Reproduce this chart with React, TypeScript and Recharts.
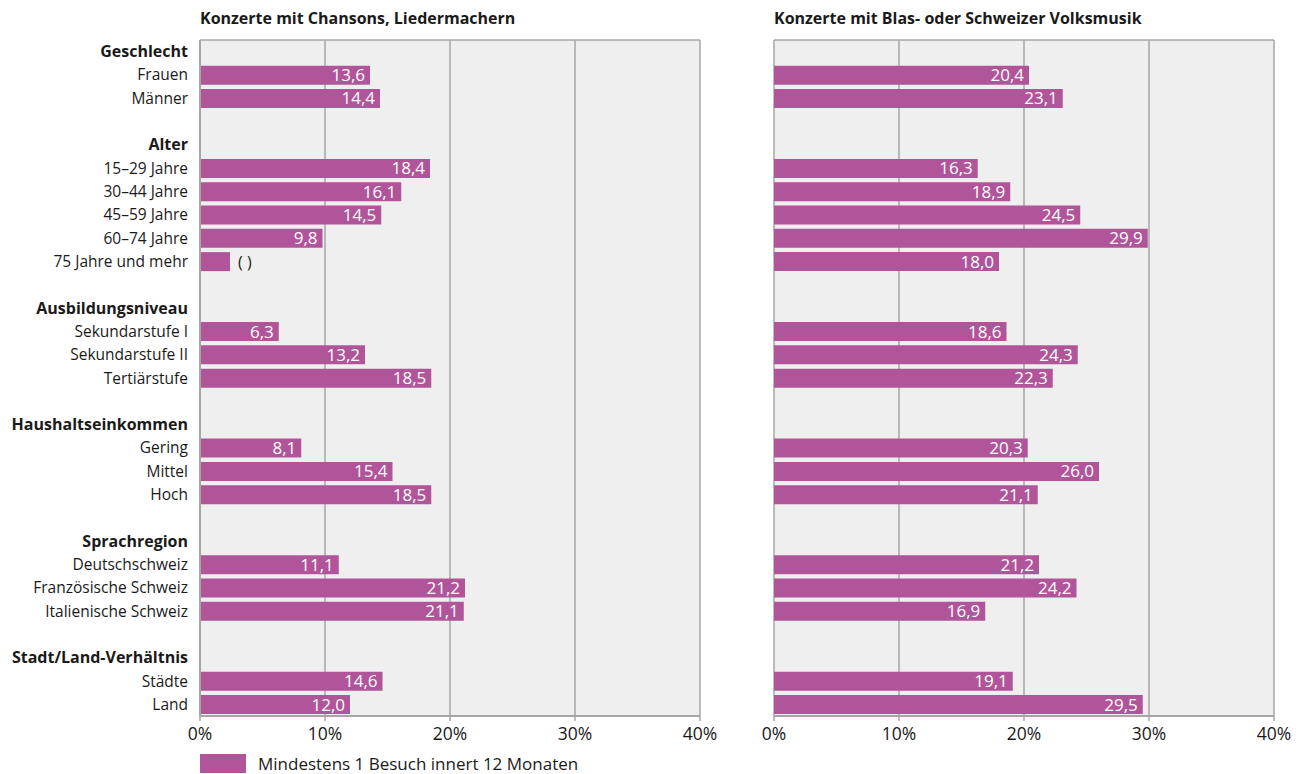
import React from "react";
import {
  BarChart,
  Bar,
  XAxis,
  YAxis,
  CartesianGrid,
  LabelList,
} from "recharts";

// row labels top to bottom; "" = spacer row
const ROWS = [
  "Geschlecht",
  "Frauen",
  "Männer",
  "",
  "Alter",
  "15–29 Jahre",
  "30–44 Jahre",
  "45–59 Jahre",
  "60–74 Jahre",
  "75 Jahre und mehr",
  "",
  "Ausbildungsniveau",
  "Sekundarstufe I",
  "Sekundarstufe II",
  "Tertiärstufe",
  "",
  "Haushaltseinkommen",
  "Gering",
  "Mittel",
  "Hoch",
  "",
  "Sprachregion",
  "Deutschschweiz",
  "Französische Schweiz",
  "Italienische Schweiz",
  "",
  "Stadt/Land-Verhältnis",
  "Städte",
  "Land",
];

const GROUPS = [
  "Geschlecht",
  "Alter",
  "Ausbildungsniveau",
  "Haushaltseinkommen",
  "Sprachregion",
  "Stadt/Land-Verhältnis",
];

// values per row (null for headers / spacers)
const chansons = [
  null, 13.6, 14.4, null,
  null, 18.4, 16.1, 14.5, 9.8, 2.4, null,
  null, 6.3, 13.2, 18.5, null,
  null, 8.1, 15.4, 18.5, null,
  null, 11.1, 21.2, 21.1, null,
  null, 14.6, 12.0,
];

const volksmusik = [
  null, 20.4, 23.1, null,
  null, 16.3, 18.9, 24.5, 29.9, 18.0, null,
  null, 18.6, 24.3, 22.3, null,
  null, 20.3, 26.0, 21.1, null,
  null, 21.2, 24.2, 16.9, null,
  null, 19.1, 29.5,
];

// rows whose value is shown only as "( )" (too few cases)
const chansonsBracketed = ["75 Jahre und mehr"];
const volksmusikBracketed: string[] = [];

const TICKS = [0, 10, 20, 30, 40];

const TITLES = [
  "Konzerte mit Chansons, Liedermachern",
  "Konzerte mit Blas- oder Schweizer Volksmusik",
];
const LEGEND = "Mindestens 1 Besuch innert 12 Monaten";

const FONT = "'Open Sans', sans-serif";
const BAR = "#b1559a";
const GRID = "#a6a6a6";
const TEXT = "#1a1a1a";

const buildTable = (values: (number | null)[], bracketed: string[]) =>
  ROWS.map((label, i) => ({
    id: i,
    value: values[i],
    label:
      values[i] == null
        ? ""
        : bracketed.includes(label)
        ? "( )"
        : values[i]!.toFixed(1).replace(".", ","),
  }));

const RowTick = (props: any) => {
  const { x, y, payload } = props;
  const label = ROWS[payload.value];
  const bold = GROUPS.includes(label);
  return (
    <text
      x={x}
      y={y}
      dy={5.5}
      textAnchor="end"
      fontFamily={FONT}
      fontSize={bold ? 16 : 15.5}
      fontWeight={bold ? 700 : 400}
      fill={TEXT}
    >
      {label}
    </text>
  );
};

const BarLabel = (props: any) => {
  const { x, y, width, height, value } = props;
  if (!value) return null;
  const cy = y + height / 2 + 6;
  if (value === "( )") {
    return (
      <text x={x + width + 8} y={cy} fontFamily={FONT} fontSize={16} fill={TEXT}>
        ( )
      </text>
    );
  }
  return (
    <text
      x={x + width - 5}
      y={cy}
      textAnchor="end"
      fontFamily={FONT}
      fontSize={17}
      fill="#ffffff"
    >
      {value}
    </text>
  );
};

function Panel({
  data,
  width,
  marginLeft,
  showRows,
}: {
  data: any[];
  width: number;
  marginLeft: number;
  showRows: boolean;
}) {
  return (
    <BarChart
      width={width}
      height={774}
      data={data}
      layout="vertical"
      margin={{ top: 40, right: width - marginLeft - (showRows ? 200 : 0) - 500, bottom: 28, left: marginLeft }}
      barCategoryGap="10%"
    >
      <CartesianGrid
        horizontal={true}
        vertical={true}
        horizontalCoordinatesGenerator={({ offset }: any) => [offset.top]}
        stroke={GRID}
        strokeWidth={1.5}
        fill="#efefef"
      />
      <XAxis
        type="number"
        domain={[0, 40]}
        ticks={TICKS}
        interval={0}
        tickFormatter={(v: number) => `${v}%`}
        axisLine={{ stroke: GRID, strokeWidth: 2 }}
        tickLine={{ stroke: GRID, strokeWidth: 1.5 }}
        tickSize={5}
        tickMargin={7}
        height={30}
        tick={{ fontFamily: FONT, fontSize: 17.5, fill: TEXT }}
      />
      <YAxis
        type="category"
        dataKey="id"
        width={showRows ? 200 : 0}
        hide={!showRows}
        interval={0}
        tickSize={0}
        tickMargin={12}
        tickLine={false}
        axisLine={{ stroke: GRID, strokeWidth: 2 }}
        tick={<RowTick />}
      />
      <Bar dataKey="value" fill={BAR} isAnimationActive={false}>
        <LabelList dataKey="label" content={<BarLabel />} />
      </Bar>
    </BarChart>
  );
}

export default function App() {
  const left = buildTable(chansons, chansonsBracketed);
  const right = buildTable(volksmusik, volksmusikBracketed);

  const titleStyle: React.CSSProperties = {
    position: "absolute",
    top: 7,
    fontFamily: FONT,
    fontSize: 16,
    fontWeight: 700,
    color: TEXT,
    whiteSpace: "nowrap",
  };

  return (
    <div
      style={{
        position: "absolute",
        left: 0,
        top: 0,
        width: 1300,
        height: 774,
        background: "#ffffff",
        overflow: "hidden",
      }}
    >
      <div style={{ ...titleStyle, left: 200 }}>{TITLES[0]}</div>
      <div style={{ ...titleStyle, left: 774 }}>{TITLES[1]}</div>

      <div style={{ position: "absolute", left: 0, top: 0 }}>
        <Panel data={left} width={720} marginLeft={0} showRows={true} />
      </div>
      <div style={{ position: "absolute", left: 720, top: 0 }}>
        <Panel data={right} width={580} marginLeft={54} showRows={false} />
      </div>

      <div
        style={{
          position: "absolute",
          left: 200,
          top: 753,
          height: 21,
          display: "flex",
          alignItems: "center",
          fontFamily: FONT,
          fontSize: 17,
          lineHeight: "21px",
          color: TEXT,
        }}
      >
        <span
          style={{
            display: "inline-block",
            width: 46,
            height: 19,
            background: BAR,
            marginRight: 12,
          }}
        />
        {LEGEND}
      </div>
    </div>
  );
}
